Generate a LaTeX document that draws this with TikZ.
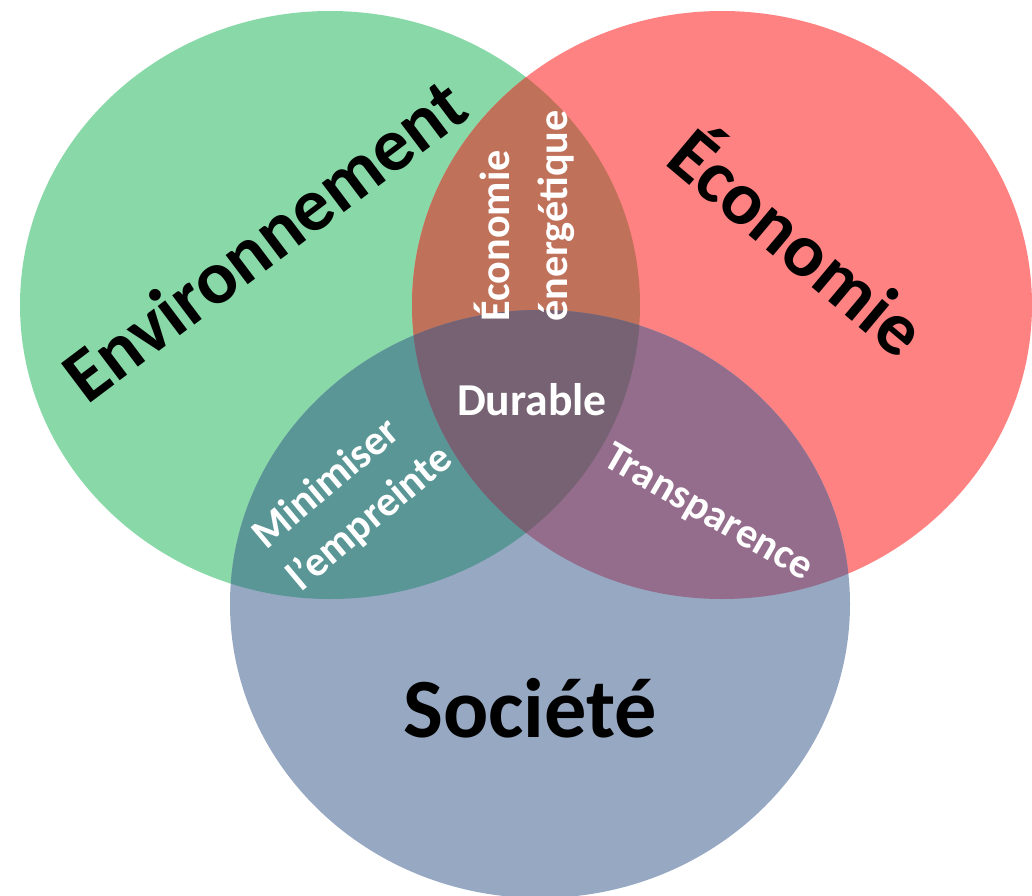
\documentclass[tikz,border=0pt]{standalone}
\usepackage{fontspec}
\setmainfont{Carlito}

\definecolor{envgreen}{RGB}{136,217,167}
\definecolor{ecored}{RGB}{255,130,130}
\definecolor{socblue}{RGB}{150,168,194}
\definecolor{lensbrown}{RGB}{192,113,90}
\definecolor{lensteal}{RGB}{90,150,150}
\definecolor{lenspurple}{RGB}{148,108,140}
\definecolor{coregrey}{RGB}{118,98,114}

\begin{document}
\begin{tikzpicture}[x=0.02cm, y=-0.02cm,
    bigtext/.style={font=\fontsize{43}{43}\selectfont\bfseries, text=black},
    smalltext/.style={font=\fontsize{24}{31}\selectfont\bfseries, text=white}]

    % Frame of the picture
    \useasboundingbox (0,0) rectangle (1032,896);

    % Setup
    \def\rx{310}     % Horizontal radius
    \def\ry{294}     % Vertical radius

    \coordinate (Env) at (330,305);
    \coordinate (Eco) at (722,305);
    \coordinate (Soc) at (540,604);

    % The three circles
    \fill[envgreen] (Env) ellipse [x radius=\rx, y radius=\ry];
    \fill[ecored] (Eco) ellipse [x radius=\rx, y radius=\ry];
    \fill[socblue] (Soc) ellipse [x radius=\rx, y radius=\ry];

    % Overlaps of two circles
    \begin{scope}
        \clip (Env) ellipse [x radius=\rx, y radius=\ry];
        \fill[lensbrown] (Eco) ellipse [x radius=\rx, y radius=\ry];
        \fill[lensteal] (Soc) ellipse [x radius=\rx, y radius=\ry];
    \end{scope}
    \begin{scope}
        \clip (Eco) ellipse [x radius=\rx, y radius=\ry];
        \fill[lenspurple] (Soc) ellipse [x radius=\rx, y radius=\ry];
    \end{scope}

    % Overlap of all three
    \begin{scope}
        \clip (Env) ellipse [x radius=\rx, y radius=\ry];
        \clip (Eco) ellipse [x radius=\rx, y radius=\ry];
        \fill[coregrey] (Soc) ellipse [x radius=\rx, y radius=\ry];
    \end{scope}

    % Circle labels
    \node[bigtext, rotate=37] (envlabel) at (264,240) {Environnement};
    \node[bigtext, rotate=-40] (ecolabel) at (801,238) {Économie};
    \node[bigtext, font=\fontsize{48}{48}\selectfont\bfseries] (soclabel) at (530,708) {Société};

    % Overlap labels
    \node[smalltext, font=\fontsize{26}{26}\selectfont\bfseries] (durable) at (532,400) {Durable};
    \node[smalltext, font=\fontsize{24}{33}\selectfont\bfseries, rotate=90, align=left] (energie) at (524,216) {Économie\\énergétique};
    \node[smalltext, rotate=40, align=left] (empreinte) at (353,498) {Minimiser\\l’empreinte};
    \node[smalltext, rotate=-30] (transp) at (708,514) {Transparence};

\end{tikzpicture}
\end{document}
